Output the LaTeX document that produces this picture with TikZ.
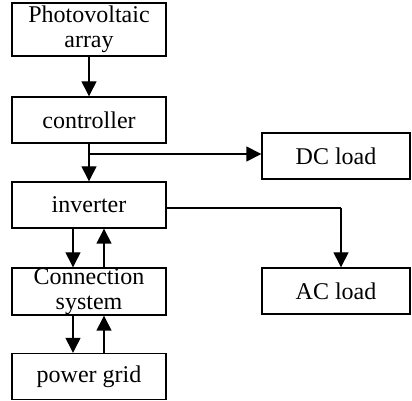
\documentclass[tikz,border=0pt]{standalone}
\usepackage{fontspec}
\setmainfont{Liberation Serif}
\usetikzlibrary{arrows.meta}
\begin{document}
\begin{tikzpicture}[x=1pt,y=1pt,
  blk/.style={draw, line width=1.4pt, inner sep=0pt, minimum height=46pt, align=center,
    font=\fontsize{24}{25}\selectfont},
  lbox/.style={blk, minimum width=154pt},
  rbox/.style={blk, minimum width=148pt},
  arr/.style={line width=1.4pt, -{Triangle[width=15pt,length=15pt]}},
  ln/.style={line width=1.4pt}]
\useasboundingbox (0,0) rectangle (412,401);
\node[lbox, minimum height=53pt] (pv) at (89,371.5) {Photovoltaic\\array};
\node[lbox] (ctl) at (89,281) {controller};
\node[lbox] (inv) at (89,196) {inverter};
\node[lbox, minimum height=47pt] (con) at (89,109.5) {Connection\\system};
\node[lbox] (grid) at (89,24.5) {power grid};
\node[rbox] (dc) at (336,245) {DC load};
\node[rbox] (ac) at (336,110) {AC load};
\draw[arr] (pv.south) -- (ctl.north);
\draw[arr] (ctl.south) -- (inv.north);
\coordinate (br) at (89,247);
\draw[arr] (br) -- (br -| dc.west);
\coordinate (corner) at (341,193);
\draw[ln] (inv.east |- corner) -- (corner);
\draw[arr] (corner) -- (corner |- ac.north);
\draw[arr] ([xshift=-16pt]inv.south) -- ([xshift=-16pt]con.north);
\draw[arr] ([xshift=15pt]con.north) -- ([xshift=15pt]inv.south);
\draw[arr] ([xshift=-16pt]con.south) -- ([xshift=-16pt]grid.north);
\draw[arr] ([xshift=15pt]grid.north) -- ([xshift=15pt]con.south);
\end{tikzpicture}
\end{document}
